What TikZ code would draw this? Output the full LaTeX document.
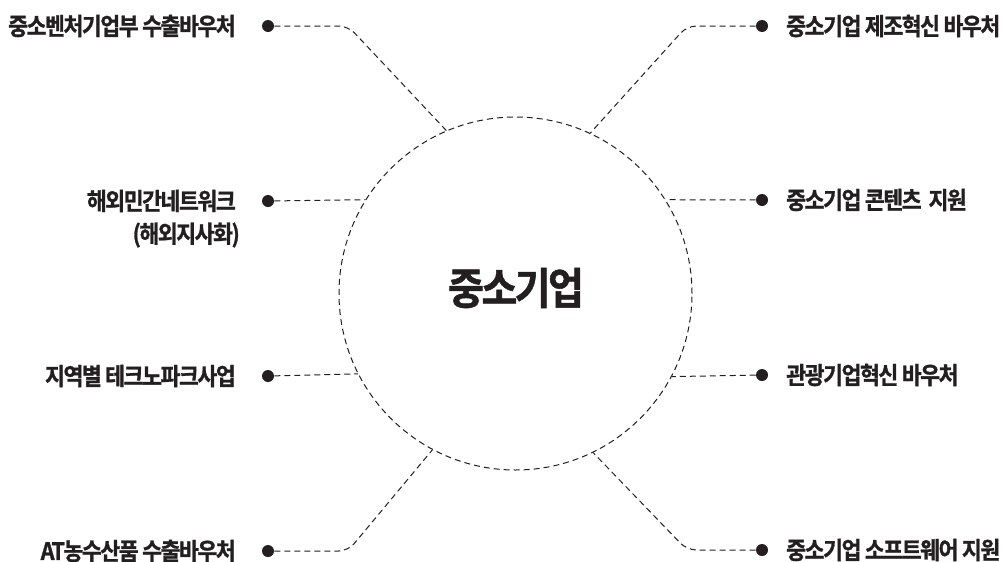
\documentclass[tikz,border=0pt]{standalone}
\usepackage{fontspec}
\newfontfamily\krlab{Noto Sans CJK KR Bold}[FakeStretch=0.9,LetterSpace=-6,FakeBold=1.2]
\definecolor{ink}{HTML}{231F20}
\begin{document}
\begin{tikzpicture}[x=0.75pt,y=-0.75pt,
  conn/.style={draw=ink,line width=0.75pt,dash pattern=on 4.5pt off 3pt,rounded corners=7pt},
  dot/.style={circle,fill=ink,inner sep=0pt,minimum size=9pt},
  lab/.style={text=ink,inner sep=0pt,font=\krlab\fontsize{18}{20}\selectfont},
  hub/.style={circle,draw=ink,line width=0.75pt,dash pattern=on 4.5pt off 3pt,minimum size=264.75pt,inner sep=0pt}]
\useasboundingbox (0,0) rectangle (1003,561);
\node[hub] (c) at (515.5,293.5) {};
\node[text=ink,inner sep=0pt,font=\krlab\fontsize{32.5}{36}\selectfont] (ct) at (516,288) {중소기업};
% dots
\node[dot] (d1) at (268,26) {};
\node[dot] (d2) at (268,201) {};
\node[dot] (d3) at (268,376) {};
\node[dot] (d4) at (268,551) {};
\node[dot] (e1) at (762,26) {};
\node[dot] (e2) at (762,200) {};
\node[dot] (e3) at (762,375) {};
\node[dot] (e4) at (762,550) {};
% corners
\coordinate (k1) at (348,26);
\coordinate (k4) at (348,551);
\coordinate (m1) at (687,26);
\coordinate (m4) at (687,550);
% connectors
\draw[conn] (d1) -- (k1) -- (c.113.7);
\draw[conn] (d2) -- (c.148);
\draw[conn] (d3) -- (c.207.5);
\draw[conn] (d4) -- (k4) -- (c.242.5);
\draw[conn] (e1) -- (m1) -- (c.65.2);
\draw[conn] (e2) -- (c.32);
\draw[conn] (e3) -- (c.332.5);
\draw[conn] (e4) -- (m4) -- (c.296.6);
% labels
\node[lab,anchor=east] (l1) at (236,26) {중소벤처기업부 수출바우처};
\node[lab,anchor=east] (l2a) at (236,201) {해외민간네트워크};
\node[lab,anchor=east] (l2b) at (240,235) {(해외지사화)};
\node[lab,anchor=east] (l3) at (236,376) {지역별 테크노파크사업};
\node[lab,anchor=east] (l4) at (236,551) {AT농수산품 수출바우처};
\node[lab,anchor=west] (r1) at (786,26) {중소기업 제조혁신 바우처};
\node[lab,anchor=west] (r2) at (786,200) {중소기업 콘텐츠\ \ 지원};
\node[lab,anchor=west] (r3) at (786,375) {관광기업혁신 바우처};
\node[lab,anchor=west] (r4) at (786,550) {중소기업 소프트웨어 지원};
\end{tikzpicture}
\end{document}
